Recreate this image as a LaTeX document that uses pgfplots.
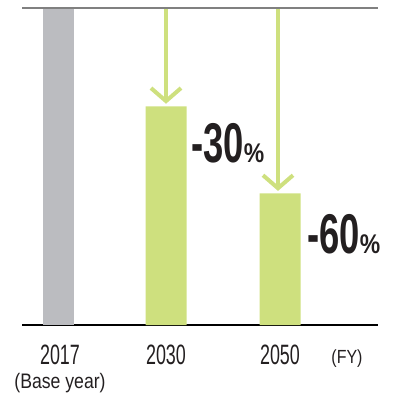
\documentclass[border=0pt]{standalone}
\usepackage{pgfplots}
\pgfplotsset{compat=1.18}
\usepackage{fontspec}
\setmainfont{Liberation Sans}
\newfontfamily\conda{Liberation Sans}[FakeStretch=0.64]
\newfontfamily\condb{Liberation Sans}[FakeStretch=0.84]
\newfontfamily\condbold{Liberation Sans}[FakeStretch=0.65]
\newfontfamily\condpct{Liberation Sans}[FakeStretch=0.85]
\usetikzlibrary{arrows.meta}
\definecolor{lgreen}{RGB}{206,224,126}
\definecolor{bgray}{RGB}{187,188,192}
\definecolor{lgray}{RGB}{128,128,128}
\definecolor{txt}{RGB}{35,31,32}
\begin{document}
\begin{tikzpicture}[x=1pt,y=1pt]
\path[use as bounding box] (0,0) rectangle (398,396);
\begin{axis}[
  at={(22pt,71pt)}, anchor=south west,
  scale only axis, width=356pt, height=317pt,
  xmin=22, xmax=378, ymin=0, ymax=100,
  clip=false,
  axis y line=none,
  axis x line*=bottom,
  x axis line style={black, line width=2pt},
  xtick={60,166,280},
  xticklabels={2017,2030,2050},
  xtick style={draw=none},
  xticklabel style={anchor=base, yshift=-39pt, font=\conda\fontsize{28}{28}\selectfont, text=txt},
]
\addplot[ybar, bar width=31, bar shift=0pt, fill=bgray, draw=none] coordinates {(58,100)};
\addplot[ybar, bar width=41, bar shift=0pt, fill=lgreen, draw=none] coordinates {(166,69) (280,41.5)};
\addplot[lgreen, line width=4pt, -{Straight Barb[length=13pt, width=30pt, line width=4pt]}] coordinates {(166,100) (166,69.8)};
\addplot[lgreen, line width=4pt, -{Straight Barb[length=13pt, width=30pt, line width=4pt]}] coordinates {(278,100) (278,42.3)};
\addplot[lgray, line width=2pt] coordinates {(22,100) (378,100)};
\node[anchor=base, text=txt, font=\condb\fontsize{21}{21}\selectfont, inner sep=0pt] at (axis cs:60,-19.9) {(Base year)};
\node[anchor=base, text=txt, font=\condb\fontsize{19}{19}\selectfont, inner sep=0pt] at (axis cs:347,-12.3) {(FY)};
\node[anchor=base west, text=txt, inner sep=0pt] at (axis cs:191,51.4) {\condbold\bfseries\fontsize{56}{56}\selectfont -30{\condpct\bfseries\fontsize{27}{27}\selectfont\%}};
\node[anchor=base west, text=txt, inner sep=0pt] at (axis cs:307,22.7) {\condbold\bfseries\fontsize{56}{56}\selectfont -60{\condpct\bfseries\fontsize{27}{27}\selectfont\%}};
\end{axis}
\end{tikzpicture}
\end{document}
